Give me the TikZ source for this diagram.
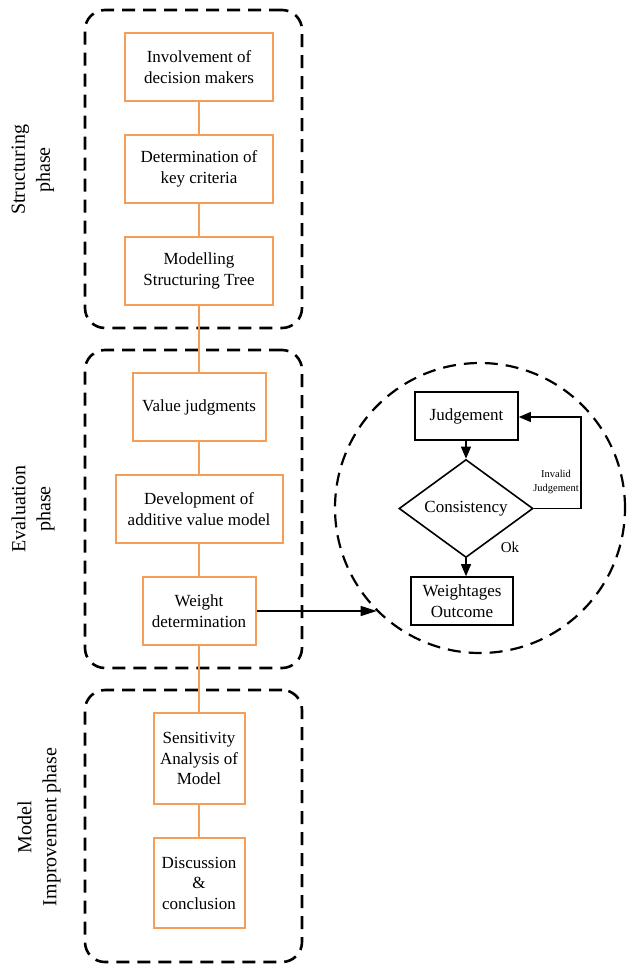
\documentclass[tikz,border=0pt]{standalone}
\usepackage{fontspec}
\setmainfont{Liberation Serif}
\usetikzlibrary{shapes.geometric,arrows.meta,calc}
\definecolor{boxorange}{RGB}{246,158,88}
\begin{document}
\begin{tikzpicture}[x=1pt,y=-1pt,
  orangebox/.style={draw=boxorange,line width=2pt,rectangle,inner sep=2pt,align=center,
    font=\fontsize{17}{20.5}\selectfont},
  phasebox/.style={draw=black,line width=2.6pt,dash pattern=on 13pt off 8pt,rounded corners=20pt,
    rectangle,minimum width=217pt,inner sep=0pt},
  orangelink/.style={draw=boxorange,line width=1.6pt},
  phaselabel/.style={rotate=90,align=center,font=\fontsize{20}{25}\selectfont},
  blackbox/.style={draw=black,line width=1.6pt,rectangle,align=center,inner sep=2pt,
    font=\fontsize{17}{20.5}\selectfont},
  blacklink/.style={draw=black,line width=1.2pt,-{Triangle[length=12pt,width=10pt]}}
]
\useasboundingbox (0,0) rectangle (628,964);
% phase frames
\node[phasebox,minimum height=318pt] (P1) at (193.5,169) {};
\node[phasebox,minimum height=318pt] (P2) at (193.5,509) {};
\node[phasebox,minimum height=272pt] (P3) at (193.5,826) {};
% phase labels
\node[phaselabel] (L1) at (33,170) {Structuring\\phase};
\node[phaselabel] (L2) at (33,509) {Evaluation\\phase};
\node[phaselabel] (L3) at (39,827) {Model\\Improvement phase};
% orange boxes
\node[orangebox,minimum width=148pt,minimum height=68pt] (B1) at (199,67) {Involvement of\\decision makers};
\node[orangebox,minimum width=148pt,minimum height=68pt] (B2) at (199,169) {Determination of\\key criteria};
\node[orangebox,minimum width=148pt,minimum height=68pt] (B3) at (199,271) {Modelling\\Structuring Tree};
\node[orangebox,minimum width=133pt,minimum height=68pt] (B4) at (199,407) {Value judgments};
\node[orangebox,minimum width=167pt,minimum height=68pt] (B5) at (199,509) {Development of\\additive value model};
\node[orangebox,minimum width=113pt,minimum height=68pt] (B6) at (199,611) {Weight\\determination};
\node[orangebox,minimum width=91pt,minimum height=91pt] (B7) at (199,758.5) {Sensitivity\\Analysis of\\Model};
\node[orangebox,minimum width=91pt,minimum height=90pt] (B8) at (199,883) {Discussion\\\&\\conclusion};
% orange links
\draw[orangelink] (B1) -- (B2);
\draw[orangelink] (B2) -- (B3);
\draw[orangelink] (B3) -- (B4);
\draw[orangelink] (B4) -- (B5);
\draw[orangelink] (B5) -- (B6);
\draw[orangelink] (B6) -- (B7);
\draw[orangelink] (B7) -- (B8);
% circle detail
\node[circle,draw=black,line width=2.2pt,dash pattern=on 13pt off 8pt,minimum size=290pt,inner sep=0pt] (C) at (480,508) {};
\node[blackbox,minimum width=103pt,minimum height=48pt] (J) at (466.5,416) {Judgement};
\node[diamond,draw=black,line width=1.6pt,minimum width=134pt,minimum height=67pt,inner sep=0pt,
  font=\fontsize{17}{20.5}\selectfont] (D) at (466,508.5) {Consistency};
\node[blackbox,minimum width=102pt,minimum height=48pt] (W) at (462,601) {Weightages\\Outcome};
\draw[blacklink] (J.south -| D.north) -- (D.north);
\draw[blacklink] (D.south) -- (D.south |- W.north);
\coordinate (R1) at (581,508.5);
\coordinate (R2) at (581,417);
\draw[blacklink] (D.east) -- (R1) -- (R2) -- (J.east |- R2);
\node[align=center,font=\fontsize{10.5}{14}\selectfont] (IJ) at (556,482) {Invalid\\Judgement};
\node[font=\fontsize{15}{18}\selectfont] (OK) at (510,547) {Ok};
\draw[draw=black,line width=1.2pt,-{Triangle[length=16pt,width=10pt]}] (B6.east) -- (B6.east -| C.225);
\end{tikzpicture}
\end{document}
